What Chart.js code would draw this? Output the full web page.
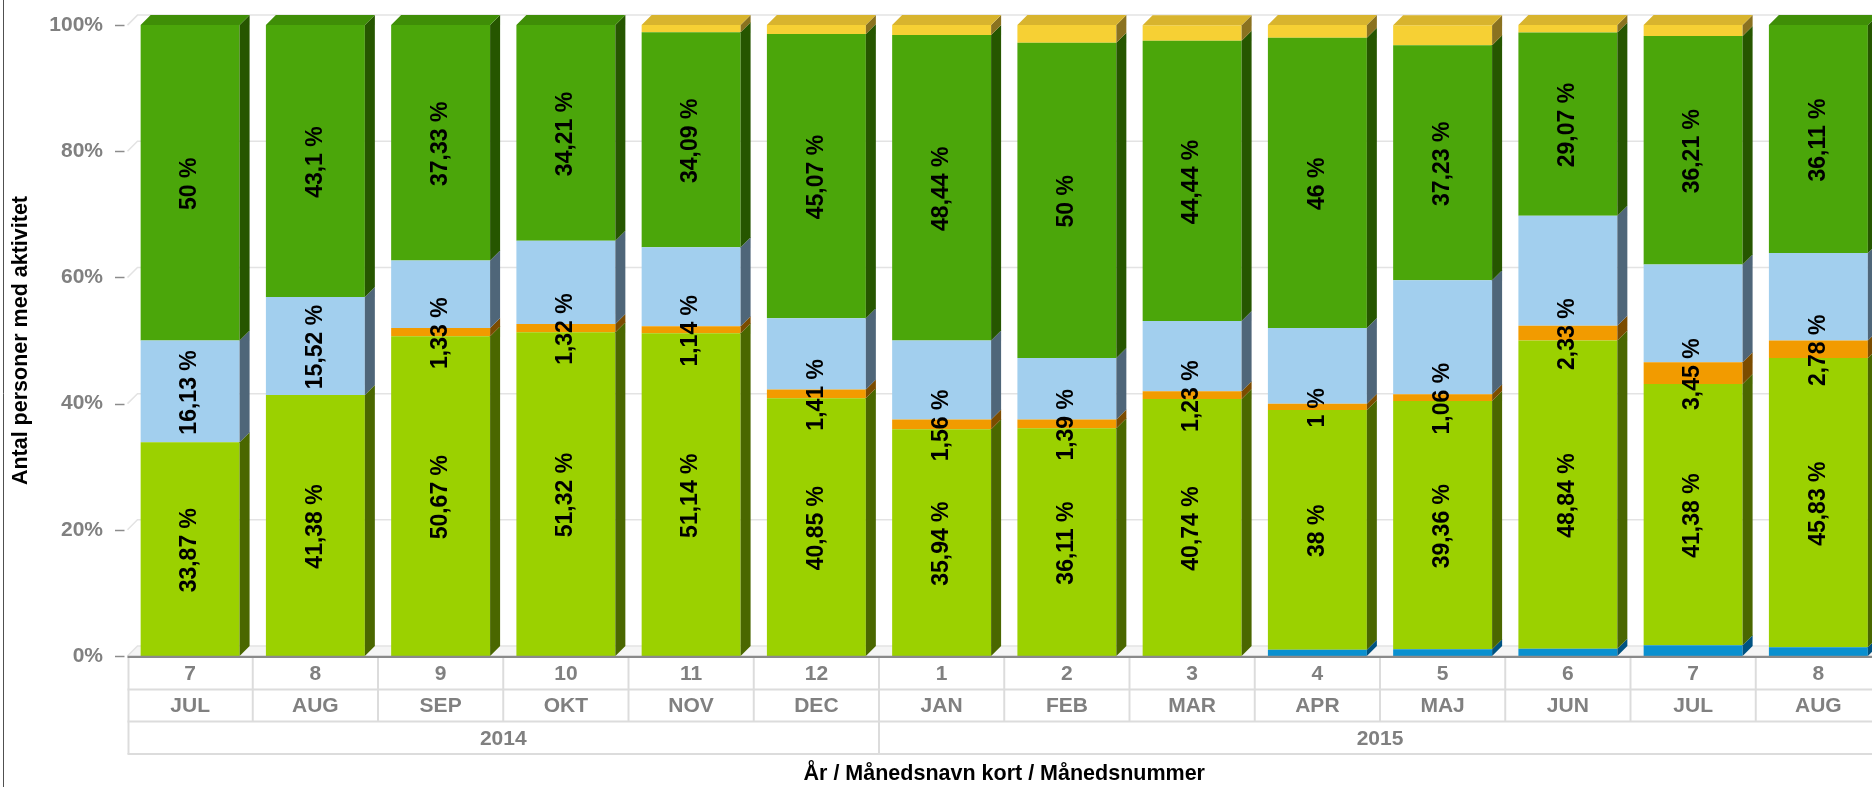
<!DOCTYPE html>
<html><head><meta charset="utf-8">
<script src="https://cdn.jsdelivr.net/npm/chart.js@4/dist/chart.umd.min.js"></script>
<style>
html,body{margin:0;padding:0;overflow:hidden;background:#fff;width:1872px;height:787px}
#wrap{position:relative;width:1881px;height:787px}
canvas{display:block}
</style></head>
<body><div id="wrap"><canvas id="c" width="1881" height="787" style="width:1881px;height:787px"></canvas></div>
<script>
// ---- data ----
const monthNames = ["JUL","AUG","SEP","OKT","NOV","DEC","JAN","FEB","MAR","APR","MAJ","JUN","JUL","AUG"];
const monthNums  = ["7","8","9","10","11","12","1","2","3","4","5","6","7","8"];
const years      = ["2014","2014","2014","2014","2014","2014","2015","2015","2015","2015","2015","2015","2015","2015"];
const yTickValues = [0,20,40,60,80,100];

const blueVals      = [0,0,0,0,0,0,0,0,0,1,1.06,1.16,1.72,1.39];
const greenVals     = [33.87,41.38,50.67,51.32,51.14,40.85,35.94,36.11,40.74,38,39.36,48.84,41.38,45.83];
const orangeVals    = [0,0,1.33,1.32,1.14,1.41,1.56,1.39,1.23,1,1.06,2.33,3.45,2.78];
const lightBlueVals = [16.13,15.52,10.67,13.16,12.5,11.27,12.5,9.72,11.11,12,18.09,17.44,15.52,13.89];
const darkGreenVals = [50,43.1,37.33,34.21,34.09,45.07,48.44,50,44.44,46,37.23,29.07,36.21,36.11];
const yellowVals    = [0,0,0,0,1.14,1.41,1.56,2.78,2.47,2,3.19,1.16,1.72,0];

const FONT = '"Liberation Sans", Arial, sans-serif';
const D = 10; // 3D depth
const labelOrder = [1,2,3,4];

function fmt(v){ return String(v).replace('.', ',') + ' %'; }

const threeD = {
  id: 'threeD',
  beforeDatasetsDraw(chart){
    const {ctx, chartArea:a, scales:{y}} = chart;
    ctx.save();
    const y0 = y.getPixelForValue(0);
    ctx.fillStyle = '#f5f5f5';
    ctx.beginPath();
    ctx.moveTo(a.left, y0); ctx.lineTo(a.left+D, y0-D); ctx.lineTo(a.right+D, y0-D); ctx.lineTo(a.right, y0);
    ctx.closePath(); ctx.fill();
    ctx.strokeStyle = '#e3e3e3'; ctx.lineWidth = 1.5;
    yTickValues.forEach(v=>{
      const py = y.getPixelForValue(v);
      ctx.beginPath(); ctx.moveTo(a.left, py); ctx.lineTo(a.left+D, py-D); ctx.lineTo(a.right+D, py-D); ctx.stroke();
    });
    ctx.restore();
  },
  afterDatasetsDraw(chart){
    const {ctx} = chart;
    const n = chart.data.labels.length;
    const dss = chart.data.datasets;
    ctx.save();
    for(let i=0;i<n;i++){
      let topIdx = -1;
      dss.forEach((ds,di)=>{ if(ds.data[i] > 0) topIdx = di; });
      dss.forEach((ds,di)=>{
        if(!(ds.data[i] > 0)) return;
        const el = chart.getDatasetMeta(di).data[i];
        const {x,y,base,width} = el.getProps(['x','y','base','width'], true);
        const l = x-width/2, r = x+width/2, t = Math.min(y,base), b = Math.max(y,base);
        ctx.fillStyle = ds.sideColor;
        ctx.beginPath(); ctx.moveTo(r,t); ctx.lineTo(r+D,t-D); ctx.lineTo(r+D,b-D); ctx.lineTo(r,b); ctx.closePath(); ctx.fill();
        if(di === topIdx){
          ctx.fillStyle = ds.topColor;
          ctx.beginPath(); ctx.moveTo(l,t); ctx.lineTo(l+D,t-D); ctx.lineTo(r+D,t-D); ctx.lineTo(r,t); ctx.closePath(); ctx.fill();
        }
      });
    }
    ctx.font = 'bold 23px ' + FONT;
    ctx.fillStyle = '#000'; ctx.textAlign = 'center'; ctx.textBaseline = 'middle';
    for(let i=0;i<n;i++){
      const placed = [];
      labelOrder.forEach(di=>{
        const v = dss[di].data[i];
        if(!(v > 0)) return;
        const el = chart.getDatasetMeta(di).data[i];
        const {x,y,base} = el.getProps(['x','y','base'], true);
        const cy = (y+base)/2;
        const txt = fmt(v);
        const w = ctx.measureText(txt).width;
        const lo = cy - w/2 - 1, hi = cy + w/2 + 1;
        if(placed.some(p => lo < p.hi && hi > p.lo)) return;
        placed.push({lo,hi});
        ctx.save(); ctx.translate(x, cy+1); ctx.rotate(-Math.PI/2); ctx.fillText(txt, 0, 0); ctx.restore();
      });
    }
    ctx.restore();
  },
  afterDraw(chart){
    const {ctx, chartArea:a, scales:{x,y}} = chart;
    const n = monthNames.length;
    const pitch = (a.right-a.left)/n;
    const yB = a.bottom;
    const r1 = yB+33.5, r2 = yB+65.5, r3 = yB+98;
    ctx.save();
    // y tick marks
    ctx.strokeStyle = '#8c8c8c'; ctx.lineWidth = 1.5;
    yTickValues.forEach(v=>{
      const py = Math.round(y.getPixelForValue(v))+0.5;
      ctx.beginPath(); ctx.moveTo(a.left-12.5, py); ctx.lineTo(a.left-3, py); ctx.stroke();
    });
    // table lines
    ctx.strokeStyle = '#dcdcdc'; ctx.lineWidth = 2;
    [r1,r2,r3].forEach(ry=>{ ctx.beginPath(); ctx.moveTo(a.left, ry); ctx.lineTo(a.right+5, ry); ctx.stroke(); });
    ctx.beginPath(); ctx.moveTo(a.left+1, yB); ctx.lineTo(a.left+1, r3); ctx.stroke();
    for(let k=1;k<n;k++){
      const bx = (x.getPixelForValue(k-1)+x.getPixelForValue(k))/2;
      ctx.beginPath(); ctx.moveTo(bx, yB); ctx.lineTo(bx, r2); ctx.stroke();
      if(years[k] !== years[k-1]){
        ctx.beginPath(); ctx.moveTo(bx, r2); ctx.lineTo(bx, r3); ctx.stroke();
      }
    }
    // baseline
    ctx.strokeStyle = '#8a8a8a'; ctx.lineWidth = 2.2;
    ctx.beginPath(); ctx.moveTo(a.left, yB+0.8); ctx.lineTo(a.right+5, yB+0.8); ctx.stroke();
    // texts
    ctx.fillStyle = '#808080'; ctx.font = 'bold 21px ' + FONT;
    ctx.textAlign = 'center'; ctx.textBaseline = 'middle';
    for(let i=0;i<n;i++){
      const cx = x.getPixelForValue(i);
      ctx.fillText(monthNums[i], cx, yB+18);
      ctx.fillText(monthNames[i], cx, yB+50.5);
    }
    let s = 0;
    for(let i=1;i<=n;i++){
      if(i===n || years[i] !== years[s]){
        const x0 = a.left + s*pitch, x1 = a.left + i*pitch;
        ctx.fillText(years[s], (x0+x1)/2, yB+83);
        s = i;
      }
    }
    // left frame line
    ctx.strokeStyle = '#505050'; ctx.lineWidth = 1;
    ctx.beginPath(); ctx.moveTo(3.5, 0); ctx.lineTo(3.5, 787); ctx.stroke();
    ctx.restore();
  }
};

function ds(label, data, color, side, top){
  return {label, data, backgroundColor: color, sideColor: side, topColor: top, borderWidth: 0,
          barPercentage: 0.79, categoryPercentage: 1};
}

new Chart(document.getElementById('c'), {
  type: 'bar',
  data: {
    labels: monthNames.map((m,i)=> years[i]+' '+m+' '+monthNums[i]),
    datasets: [
      ds('Blå', blueVals, '#0a90d0', '#005382', '#0a7fb8'),
      ds('Lysegrøn', greenVals, '#9bd100', '#4a6700', '#86b600'),
      ds('Orange', orangeVals, '#f29b00', '#7b4c00', '#d48800'),
      ds('Lyseblå', lightBlueVals, '#a2cfee', '#4f6679', '#8cb5d2'),
      ds('Mørkegrøn', darkGreenVals, '#4ba60a', '#265600', '#3f8e07'),
      ds('Gul', yellowVals, '#f6d034', '#8a7220', '#d8b42e')
    ]
  },
  options: {
    responsive: false, animation: false, devicePixelRatio: 1,
    layout: {padding: {top: 23, left: 0, right: 0, bottom: 0}},
    plugins: {legend: {display: false}, tooltip: {enabled: false}},
    scales: {
      x: {
        stacked: true,
        grid: {display: false}, border: {display: false},
        ticks: {display: false},
        title: {display: true, text: 'År / Månedsnavn kort / Månedsnummer', color: '#000',
                font: {family: FONT, size: 21.5, weight: 'bold'}, padding: {top: 0, bottom: 0}},
        afterFit: s => { s.height = 131; }
      },
      y: {
        stacked: true, min: 0, max: 100,
        afterBuildTicks: s => { s.ticks = yTickValues.map(v => ({value: v})); },
        grid: {display: false, drawTicks: true, tickLength: 12}, border: {display: false},
        ticks: {color: '#808080', font: {family: FONT, size: 21, weight: 'bold'}, padding: 12.5,
                callback: v => v + '%'},
        title: {display: true, text: 'Antal personer med aktivitet', color: '#000',
                font: {family: FONT, size: 21.5, weight: 'bold'}, padding: {top: 8, bottom: 0}},
        afterFit: s => { s.width = 127.5; }
      }
    }
  },
  plugins: [threeD]
});
</script>
</body></html>
